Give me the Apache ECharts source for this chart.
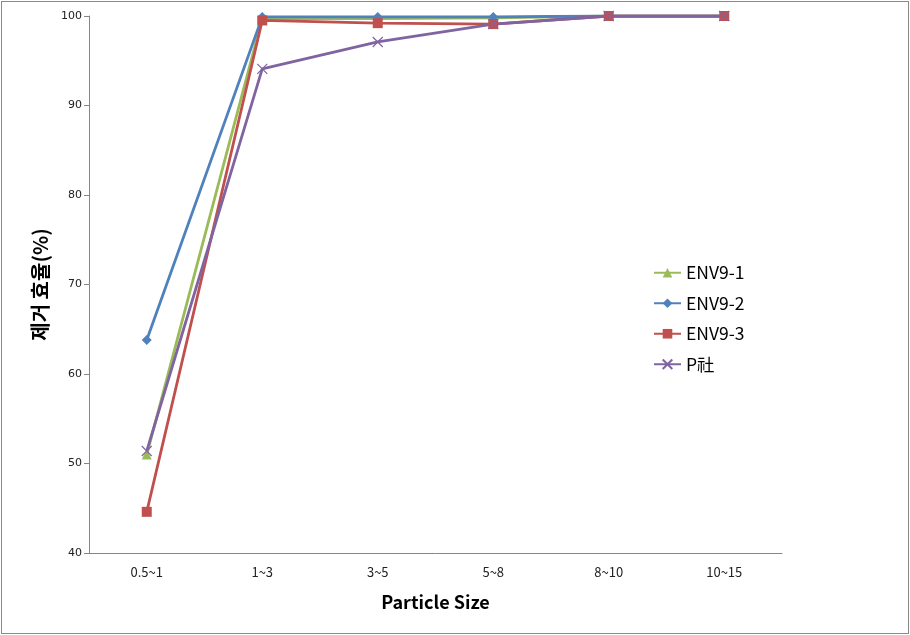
<!DOCTYPE html>
<html><head><meta charset="utf-8">
<script src="https://cdn.jsdelivr.net/npm/echarts@6/dist/echarts.min.js"></script>
<style>html,body{margin:0;padding:0;background:#fff}#c{width:910px;height:635px;position:relative}
#b{position:absolute;left:1px;top:1px;width:906px;height:631px;border:1px solid #8a8a8a;pointer-events:none;z-index:5}</style>
</head><body><div id="c"></div><div id="b"></div>
<script>
const categories = ['0.5~1','1~3','3~5','5~8','8~10','10~15'];
const env91 = [51.0, 99.7, 99.7, 99.8, 100, 100];
const env92 = [63.8, 99.9, 99.9, 99.9, 100, 100];
const env93 = [44.6, 99.5, 99.2, 99.1, 100, 100];
const pco = [51.4, 94.1, 97.1, 99.1, 100, 100];
const yTicks = {min: 40, max: 100, interval: 10};

const chart = echarts.init(document.getElementById('c'));
const mk = (name, data, color, symbol, size) => ({
  name, type: 'line', data, symbol, symbolSize: size,
  lineStyle: {color, width: 2.8}, itemStyle: {color},
  showAllSymbol: true, animation: false
});
chart.setOption({
  animation: false,
  grid: {left: 89, right: 128, top: 16, bottom: 82},
  legend: {
    orient: 'vertical', left: 648, top: 259, itemGap: 13, itemWidth: 27, itemHeight: 12,
    textStyle: {fontFamily: 'Noto Sans CJK KR', fontSize: 17.5, color: '#000'},
    data: ['ENV9-1','ENV9-2','ENV9-3','P社']
  },
  xAxis: {
    type: 'category', data: categories, boundaryGap: true,
    axisLine: {lineStyle: {color: '#868686', width: 1}},
    axisTick: {show: false},
    axisLabel: {fontFamily: 'Noto Sans CJK KR', fontSize: 13, color: '#222', margin: 13},
    name: 'Particle Size', nameLocation: 'middle', nameGap: 40,
    nameTextStyle: {fontFamily: 'Noto Sans CJK KR', fontSize: 18, fontWeight: 'bold', color: '#000'}
  },
  yAxis: {
    type: 'value', min: yTicks.min, max: yTicks.max, interval: yTicks.interval,
    axisLine: {show: true, lineStyle: {color: '#868686', width: 1}},
    axisTick: {show: true, length: 5, lineStyle: {color: '#868686'}},
    splitLine: {show: false},
    axisLabel: {fontFamily: 'DejaVu Sans', fontSize: 11, color: '#222', margin: 7},
    name: '제거 효율(%)', nameLocation: 'middle', nameGap: 39,
    nameTextStyle: {fontFamily: 'Noto Sans CJK KR', fontSize: 20, fontWeight: 'bold', color: '#000'}
  },
  series: [
    mk('ENV9-1', env91, '#9BBB59', 'triangle', 10),
    mk('ENV9-2', env92, '#4F81BD', 'diamond', 10),
    mk('ENV9-3', env93, '#C0504D', 'rect', 10),
    mk('P社', pco, '#8064A2', 'path://M0,0L10,10M10,0L0,10', 10)
  ]
});
chart.setOption({series: [{}, {}, {}, {itemStyle: {color: '#8064A2', borderColor: '#8064A2', borderWidth: 1.2}}]});
</script></body></html>
